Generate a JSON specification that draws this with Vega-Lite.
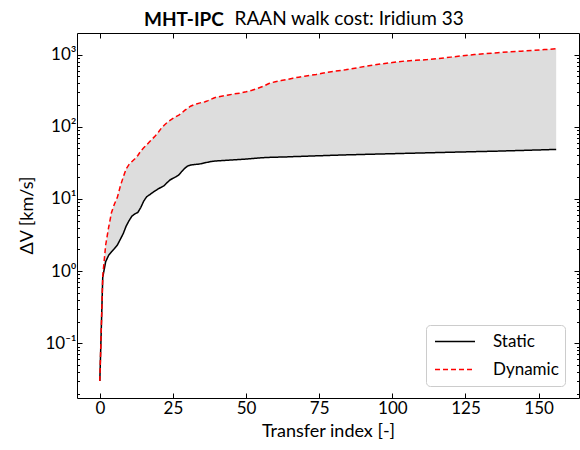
{
  "$schema": "https://vega.github.io/schema/vega-lite/v6.json",
  "autosize": {"type": "none"},
  "width": 502,
  "height": 365,
  "padding": {"left": 77, "top": 33, "right": 1, "bottom": 52},
  "background": "white",
  "title": {
    "text": "MHT-IPC",
    "anchor": "start",
    "frame": "group",
    "dx": 67,
    "dy": 45,
    "baseline": "alphabetic",
    "font": "Lato",
    "fontSize": 19,
    "fontWeight": "bold",
    "color": "#000000",
    "offset": 9
  },
  "config": {
    "view": {"stroke": "#000000", "strokeWidth": 1},
    "axis": {
      "domain": false,
      "grid": false,
      "tickColor": "#000000",
      "labelColor": "#000000",
      "titleColor": "#000000",
      "labelFont": "Lato",
      "titleFont": "Lato",
      "labelFontSize": 17,
      "titleFontSize": 18,
      "titleFontWeight": "normal",
      "labelFlush": false,
      "labelOverlap": false
    }
  },
  "data": {
    "values": [
      {"i": 0, "Static": 0.03, "Dynamic": 0.03},
      {"i": 1, "Static": 0.82, "Dynamic": 0.85},
      {"i": 2, "Static": 1.35, "Dynamic": 2.3},
      {"i": 3, "Static": 1.65, "Dynamic": 4.0},
      {"i": 4, "Static": 1.85, "Dynamic": 6.5},
      {"i": 5, "Static": 2.05, "Dynamic": 8.5},
      {"i": 6, "Static": 2.3, "Dynamic": 10.5},
      {"i": 7, "Static": 2.75, "Dynamic": 15},
      {"i": 8, "Static": 3.3, "Dynamic": 20},
      {"i": 9, "Static": 4.2, "Dynamic": 26},
      {"i": 10, "Static": 5.0, "Dynamic": 30},
      {"i": 11, "Static": 5.8, "Dynamic": 33},
      {"i": 12, "Static": 6.2, "Dynamic": 36},
      {"i": 13, "Static": 6.5, "Dynamic": 40},
      {"i": 14, "Static": 7.6, "Dynamic": 46},
      {"i": 15, "Static": 9.3, "Dynamic": 51},
      {"i": 16, "Static": 10.7, "Dynamic": 56},
      {"i": 17, "Static": 11.4, "Dynamic": 62},
      {"i": 18, "Static": 12.2, "Dynamic": 68},
      {"i": 19, "Static": 13.0, "Dynamic": 75},
      {"i": 20, "Static": 13.8, "Dynamic": 84},
      {"i": 21, "Static": 14.5, "Dynamic": 95},
      {"i": 22, "Static": 15.3, "Dynamic": 105},
      {"i": 23, "Static": 16.8, "Dynamic": 114},
      {"i": 24, "Static": 18.3, "Dynamic": 122},
      {"i": 25, "Static": 19.3, "Dynamic": 130},
      {"i": 26, "Static": 20.2, "Dynamic": 138},
      {"i": 27, "Static": 21.5, "Dynamic": 145},
      {"i": 28, "Static": 24.0, "Dynamic": 155},
      {"i": 29, "Static": 26.5, "Dynamic": 168},
      {"i": 30, "Static": 28.5, "Dynamic": 180},
      {"i": 31, "Static": 29.4, "Dynamic": 192},
      {"i": 32, "Static": 29.8, "Dynamic": 200},
      {"i": 33, "Static": 30.1, "Dynamic": 206},
      {"i": 34, "Static": 30.4, "Dynamic": 212},
      {"i": 35, "Static": 31.0, "Dynamic": 218},
      {"i": 36, "Static": 31.7, "Dynamic": 222},
      {"i": 37, "Static": 32.3, "Dynamic": 230},
      {"i": 38, "Static": 32.9, "Dynamic": 240},
      {"i": 39, "Static": 33.3, "Dynamic": 250},
      {"i": 40, "Static": 33.6, "Dynamic": 258},
      {"i": 42, "Static": 34.0, "Dynamic": 266},
      {"i": 44, "Static": 34.4, "Dynamic": 275},
      {"i": 46, "Static": 34.8, "Dynamic": 285},
      {"i": 48, "Static": 35.2, "Dynamic": 292},
      {"i": 50, "Static": 35.6, "Dynamic": 305},
      {"i": 52, "Static": 36.2, "Dynamic": 320},
      {"i": 54, "Static": 36.8, "Dynamic": 340},
      {"i": 56, "Static": 37.3, "Dynamic": 365},
      {"i": 58, "Static": 37.6, "Dynamic": 400},
      {"i": 60, "Static": 37.8, "Dynamic": 420},
      {"i": 62, "Static": 38.0, "Dynamic": 435},
      {"i": 64, "Static": 38.2, "Dynamic": 450},
      {"i": 66, "Static": 38.5, "Dynamic": 470},
      {"i": 68, "Static": 38.7, "Dynamic": 485},
      {"i": 70, "Static": 39.0, "Dynamic": 500},
      {"i": 72, "Static": 39.2, "Dynamic": 515},
      {"i": 74, "Static": 39.5, "Dynamic": 530},
      {"i": 76, "Static": 39.7, "Dynamic": 550},
      {"i": 78, "Static": 40.0, "Dynamic": 570},
      {"i": 80, "Static": 40.2, "Dynamic": 585},
      {"i": 84, "Static": 40.7, "Dynamic": 615},
      {"i": 88, "Static": 41.1, "Dynamic": 655},
      {"i": 92, "Static": 41.5, "Dynamic": 700},
      {"i": 96, "Static": 41.9, "Dynamic": 740},
      {"i": 100, "Static": 42.3, "Dynamic": 775},
      {"i": 104, "Static": 42.7, "Dynamic": 810},
      {"i": 108, "Static": 43.1, "Dynamic": 830},
      {"i": 112, "Static": 43.5, "Dynamic": 850},
      {"i": 116, "Static": 43.9, "Dynamic": 880},
      {"i": 120, "Static": 44.3, "Dynamic": 920},
      {"i": 124, "Static": 44.7, "Dynamic": 960},
      {"i": 128, "Static": 45.1, "Dynamic": 1000},
      {"i": 132, "Static": 45.5, "Dynamic": 1030},
      {"i": 136, "Static": 45.9, "Dynamic": 1060},
      {"i": 140, "Static": 46.4, "Dynamic": 1090},
      {"i": 144, "Static": 46.9, "Dynamic": 1110},
      {"i": 148, "Static": 47.4, "Dynamic": 1140},
      {"i": 152, "Static": 47.9, "Dynamic": 1170},
      {"i": 156, "Static": 48.5, "Dynamic": 1200}
    ]
  },
  "resolve": {"axis": {"x": "independent", "y": "independent"}},
  "layer": [
    {
      "mark": {"type": "area", "color": "#dddddd", "opacity": 1},
      "encoding": {
        "x": {
          "field": "i",
          "type": "quantitative",
          "scale": {"domain": [-7.8, 163.8], "nice": false, "zero": false},
          "axis": {
            "orient": "bottom",
            "values": [0, 25, 50, 75, 100, 125, 150],
            "tickSize": -5,
            "labelPadding": 7,
            "title": "Transfer index [-]",
            "titlePadding": 6
          }
        },
        "y": {
          "field": "Static",
          "type": "quantitative",
          "scale": {"type": "log", "domain": [0.01747, 1986], "nice": false},
          "axis": {
            "orient": "left",
            "values": [0.1, 1, 10, 100, 1000],
            "labelExpr": "datum.value < 0.5 ? '10⁻¹' : datum.value < 5 ? '10⁰' : datum.value < 50 ? '10¹' : datum.value < 500 ? '10²' : '10³'",
            "tickSize": -5,
            "labelPadding": 6,
            "title": "ΔV [km/s]",
            "titleX": -50,
            "titleY": 182,
            "titleAlign": "center",
            "titleBaseline": "middle",
            "titleAngle": -90
          }
        },
        "y2": {"field": "Dynamic"}
      }
    },
    {
      "transform": [{"fold": ["Static", "Dynamic"], "as": ["series", "dv"]}],
      "mark": {"type": "line", "strokeWidth": 1.5},
      "encoding": {
        "x": {
          "field": "i",
          "type": "quantitative",
          "scale": {"domain": [-7.8, 163.8], "nice": false, "zero": false},
          "axis": {
            "orient": "top",
            "values": [0, 25, 50, 75, 100, 125, 150],
            "tickSize": -5,
            "labels": false,
            "title": "RAAN walk cost: Iridium 33",
            "titleFontSize": 19,
            "titleAlign": "left",
            "titleAnchor": "start",
            "titleBaseline": "alphabetic",
            "titleX": 157,
            "titleY": -9
          }
        },
        "y": {
          "field": "dv",
          "type": "quantitative",
          "scale": {"type": "log", "domain": [0.01747, 1986], "nice": false},
          "axis": {
            "orient": "right",
            "values": [0.1, 1, 10, 100, 1000],
            "tickSize": -5,
            "labels": false,
            "title": null
          }
        },
        "color": {
          "field": "series",
          "type": "nominal",
          "scale": {"domain": ["Static", "Dynamic"], "range": ["#000000", "#ff0000"]},
          "legend": {
            "title": null,
            "orient": "none",
            "legendX": 349,
            "legendY": 292,
            "padding": 6,
            "fillColor": "#ffffff",
            "strokeColor": "#cccccc",
            "cornerRadius": 4,
            "symbolType": "stroke",
            "symbolSize": 1600,
            "symbolStrokeWidth": 1.5,
            "symbolOffset": 2,
            "clipHeight": 21,
            "labelFont": "Lato",
            "labelFontSize": 17,
            "labelColor": "#000000",
            "labelOffset": 17,
            "rowPadding": 7
          }
        },
        "strokeDash": {
          "field": "series",
          "type": "nominal",
          "scale": {"domain": ["Static", "Dynamic"], "range": [[1, 0], [5, 3]]},
          "legend": {
            "title": null,
            "orient": "none",
            "legendX": 349,
            "legendY": 292,
            "padding": 6,
            "fillColor": "#ffffff",
            "strokeColor": "#cccccc",
            "cornerRadius": 4,
            "symbolType": "stroke",
            "symbolSize": 1600,
            "symbolStrokeWidth": 1.5,
            "symbolOffset": 2,
            "clipHeight": 21,
            "labelFont": "Lato",
            "labelFontSize": 17,
            "labelColor": "#000000",
            "labelOffset": 17,
            "rowPadding": 7
          }
        }
      }
    },
    {
      "mark": {"type": "point", "opacity": 0},
      "encoding": {
        "x": {"field": "i", "type": "quantitative", "axis": null},
        "y": {
          "field": "Static",
          "type": "quantitative",
          "scale": {"type": "log", "domain": [0.01747, 1986], "nice": false},
          "axis": {
            "orient": "left",
            "values": [0.02, 0.03, 0.04, 0.05, 0.06, 0.07, 0.08, 0.09, 0.2, 0.3, 0.4, 0.5, 0.6, 0.7, 0.8, 0.9, 2, 3, 4, 5, 6, 7, 8, 9, 20, 30, 40, 50, 60, 70, 80, 90, 200, 300, 400, 500, 600, 700, 800, 900],
            "tickSize": -2.5,
            "labels": false,
            "title": null
          }
        }
      }
    },
    {
      "mark": {"type": "point", "opacity": 0},
      "encoding": {
        "x": {"field": "i", "type": "quantitative", "axis": null},
        "y": {
          "field": "Static",
          "type": "quantitative",
          "scale": {"type": "log", "domain": [0.01747, 1986], "nice": false},
          "axis": {
            "orient": "right",
            "values": [0.02, 0.03, 0.04, 0.05, 0.06, 0.07, 0.08, 0.09, 0.2, 0.3, 0.4, 0.5, 0.6, 0.7, 0.8, 0.9, 2, 3, 4, 5, 6, 7, 8, 9, 20, 30, 40, 50, 60, 70, 80, 90, 200, 300, 400, 500, 600, 700, 800, 900],
            "tickSize": -2.5,
            "labels": false,
            "title": null
          }
        }
      }
    }
  ]
}
